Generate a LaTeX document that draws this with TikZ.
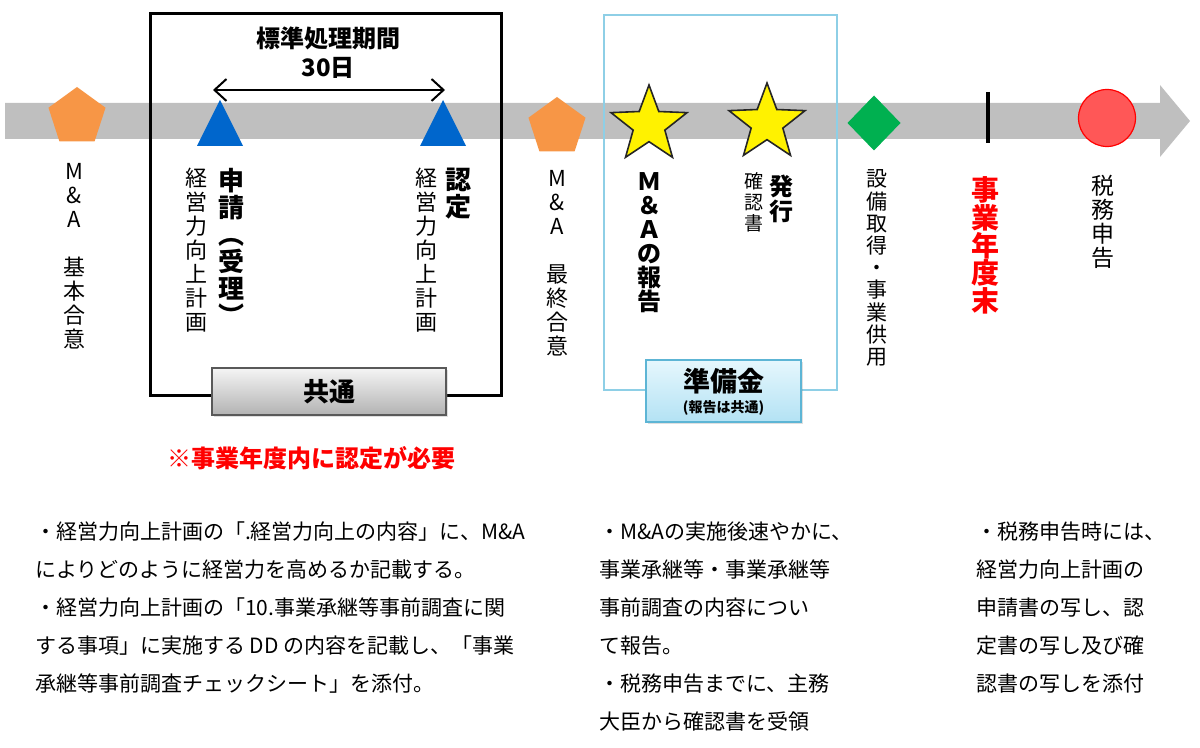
\documentclass[tikz,border=0pt]{standalone}
\usepackage{fontspec}
\setmainfont{Noto Sans CJK JP}
\usetikzlibrary{positioning,shapes.geometric,arrows.meta,shadows}

\definecolor{bandgray}{HTML}{BFBFBF}
\definecolor{pentorange}{HTML}{F79646}
\definecolor{triblue}{HTML}{0066CC}
\definecolor{diagreen}{HTML}{00B050}
\definecolor{circred}{HTML}{FF5757}
\definecolor{framecyan}{HTML}{8ECFE6}
\definecolor{boxcyan}{HTML}{5DB5D5}
\definecolor{celltop}{HTML}{E6F7FD}
\definecolor{cellbottom}{HTML}{B3E2F4}

\begin{document}
\begin{tikzpicture}[
  x=0.5pt, y=-0.5pt,
  every node/.style={inner sep=0pt, outer sep=0pt},
  pentamark/.style={regular polygon, regular polygon sides=5, fill=pentorange, minimum size=30pt},
  starmark/.style={star, star points=5, star point ratio=2.4, fill=yellow, draw=black!85, line width=0.8pt, minimum size=40pt},
  vlabel/.style={align=center, anchor=north, font=\fontsize{11}{12}\selectfont},
  vbold/.style={align=center, anchor=north, font=\fontsize{13}{13.5}\selectfont\bfseries},
  graybox/.style={draw=black!65, line width=0.8pt, top color=black!4, bottom color=black!30,
    drop shadow={opacity=0.25, shadow xshift=0.8pt, shadow yshift=-1pt}},
  bluebox/.style={draw=boxcyan, line width=1pt, top color=celltop, bottom color=cellbottom,
    drop shadow={opacity=0.25, shadow xshift=0.8pt, shadow yshift=-1pt}},
  memo/.style={align=left, anchor=north west, font=\fontsize{10.5}{19}\selectfont},
]

\useasboundingbox (0,0) rectangle (1200,748);

% timeline
\fill[bandgray] (5,103) -- (1160,103) -- (1160,85) -- (1190,121)
  -- (1160,157) -- (1160,139) -- (5,139) -- cycle;

% frames
\draw[line width=1.5pt] (150,14) rectangle (501,396);
\draw[framecyan, line width=1pt] (604,15) rectangle (837,390);

% standard period
\node (period) [font=\fontsize{12}{14}\selectfont\bfseries] at (328,38) {標準処理期間};
\node (days) [font=\fontsize{12}{14}\selectfont\bfseries] at (328,68) {30日};
\coordinate (pstart) at (213,90);
\coordinate (pend) at (445,90);
\draw[{Straight Barb[length=6pt,width=11pt]}-{Straight Barb[length=6pt,width=11pt]}, line width=1pt] (pstart) -- (pend);

% markers
\node (ma1) [pentamark] at (77,117) {};
\node (ma2) [pentamark] at (557,127) {};
\coordinate (apply) at (220,146);
\coordinate (cert) at (443,146);
\fill[triblue] (apply) ++(0,-46) -- ++(23,46) -- ++(-46,0) -- cycle;
\fill[triblue] (cert) ++(0,-46) -- ++(23,46) -- ++(-46,0) -- cycle;
\node (report) [starmark] at (649,125) {};
\node (issue) [starmark] at (767,123) {};
\node (equip) [diamond, fill=diagreen, minimum width=26.5pt, minimum height=27.5pt] at (874,123) {};
\coordinate (fyend) at (988,92);
\draw[line width=2pt] (fyend) -- ++(0,51);
\node (tax) [circle, fill=circred, draw=red, line width=0.6pt, minimum size=28.5pt] at (1107,118) {};

% labels
\node (ma1lbl) [vlabel] at (74,163) {M\\\&\\A\\[12pt]基\\本\\合\\意};
\node (apply1) [vbold] at (231,168) {申\\請\\︵\\受\\理\\︶};
\node (apply2) [vlabel] at (196,168) {経\\営\\力\\向\\上\\計\\画};
\node (cert1) [vbold] at (458,168) {認\\定};
\node (cert2) [vlabel] at (426,168) {経\\営\\力\\向\\上\\計\\画};
\node (ma2lbl) [vlabel] at (557,170) {M\\\&\\A\\[12pt]最\\終\\合\\意};
\node (reportlbl) [vbold, font=\fontsize{12}{12}\selectfont\bfseries] at (649,173) {Ｍ\\＆\\Ａ\\の\\報\\告};
\node (issue1) [vbold, font=\fontsize{12}{12.5}\selectfont\bfseries] at (781,175) {発\\行};
\node (issue2) [vlabel, font=\fontsize{9.5}{10.5}\selectfont] at (754,173) {確\\認\\書};
\node (equiplbl) [vlabel, font=\fontsize{10.5}{11.1}\selectfont] at (877,170) {設\\備\\取\\得\\・\\事\\業\\供\\用};
\node (fylbl) [vbold, font=\fontsize{14}{13.8}\selectfont\bfseries, text=red] at (985,177) {事\\業\\年\\度\\末};
\node (taxlbl) [vlabel, font=\fontsize{11.5}{12}\selectfont] at (1103,175) {税\\務\\申\\告};

% boxes
\node (common) [graybox, minimum width=117pt, minimum height=23.5pt, font=\fontsize{13}{15}\selectfont\bfseries] at (329,391.5) {共通};
\node (reserve) [bluebox, minimum width=77.5pt, minimum height=31pt] at (723.5,391) {};
\node (reservetxt) [font=\fontsize{13.5}{15}\selectfont\bfseries] at (723.5,381) {準備金};
\node (reservenote) [font=\fontsize{7}{9}\selectfont\bfseries] at (723.5,408) {(報告は共通)};

\node (note) [font=\fontsize{12}{14}\selectfont\bfseries, text=red] at (311,458) {※事業年度内に認定が必要};

% memos
\node (memo1) [memo] at (35,522) {・経営力向上計画の「.経営力向上の内容」に、M\&A\\によりどのように経営力を高めるか記載する。\\・経営力向上計画の「10.事業承継等事前調査に関\\する事項」に実施する DD の内容を記載し、「事業\\承継等事前調査チェックシート」を添付。};
\node (memo2) [memo] at (599,522) {・M\&Aの実施後速やかに、\\事業承継等・事業承継等\\事前調査の内容につい\\て報告。\\・税務申告までに、主務\\大臣から確認書を受領};
\node (memo3) [memo] at (976,522) {・税務申告時には、\\経営力向上計画の\\申請書の写し、認\\定書の写し及び確\\認書の写しを添付};

\end{tikzpicture}
\end{document}
